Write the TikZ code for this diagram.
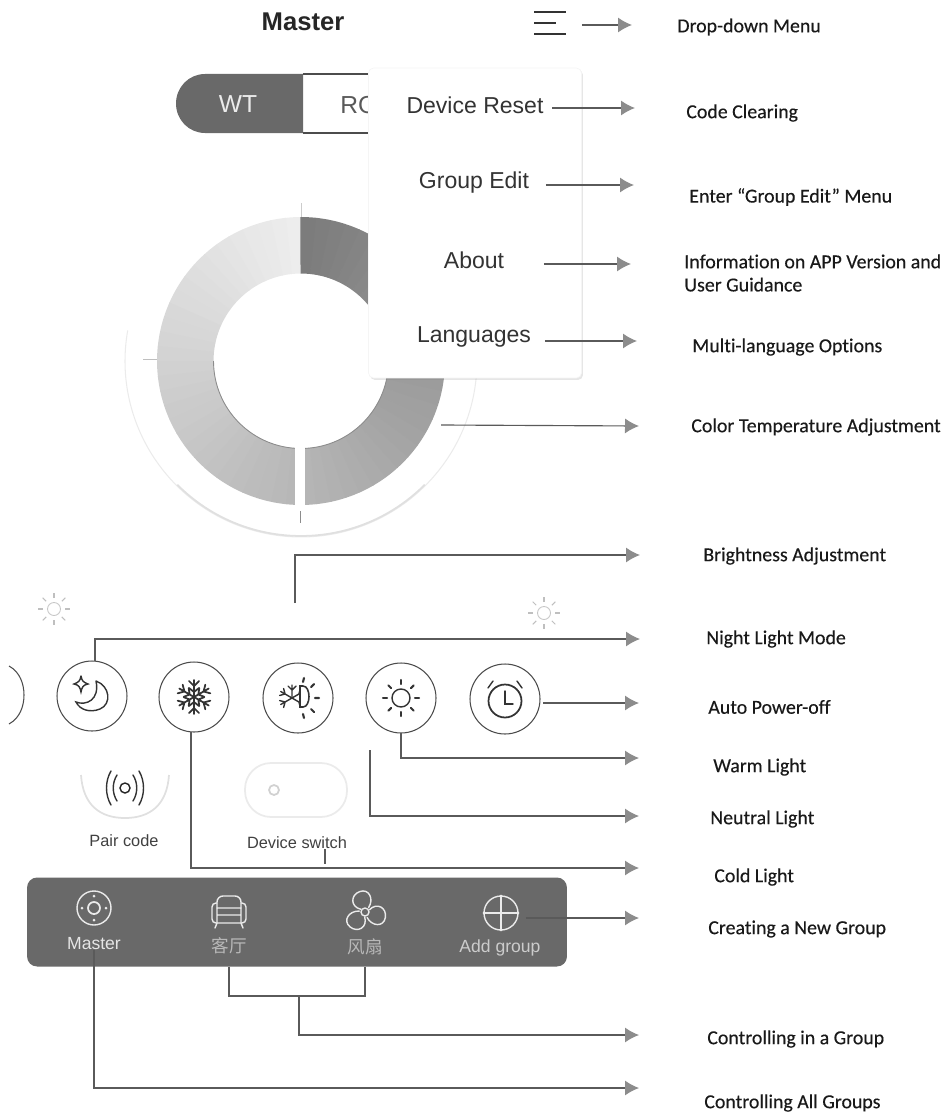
\documentclass[tikz,border=0pt]{standalone}
\usepackage{fontspec}
\setmainfont{Liberation Sans}
\newfontfamily\lblfont[FakeBold=.3,Ligatures=NoCommon]{Carlito}
\newfontfamily\cjk{Noto Sans CJK SC}
\usetikzlibrary{arrows.meta}
\usetikzlibrary{shadows}

\definecolor{bardark}{HTML}{696969}
\definecolor{linedark}{HTML}{5A5A5A}
\definecolor{tipgray}{HTML}{8C8C8C}

\tikzset{
	link/.style={draw=linedark,line width=.65pt,-{Latex[length=.28cm,width=.3cm,color=tipgray]}},
	wire/.style={draw=linedark,line width=.65pt},
	lbl/.style={anchor=west,inner sep=0pt,align=left,font=\lblfont\fontsize{11.3}{13.2}\selectfont,text=black!90},
	menuitem/.style={inner sep=2pt,font=\fontsize{13.1}{15}\selectfont,text=black!80},
	btn/.style={circle,draw=black!70,line width=.6pt,minimum size=1.4cm,inner sep=0pt,outer sep=0pt},
	bartxt/.style={inner sep=0pt,font=\fontsize{10}{12}\selectfont,text=white!90!black},
	icon/.style={draw=black!80,line width=.8pt,line cap=round},
	baricon/.style={draw=white!92!black,line width=.8pt,line cap=round},
	smalltxt/.style={inner sep=0pt,font=\fontsize{9.3}{11}\selectfont,text=black!75}
}

\begin{document}
\begin{tikzpicture}[x=.02cm,y=-.02cm]
	\useasboundingbox (0,0) rectangle (946,1115);

	\begin{scope}[shift={(301,361)},x=.02cm,y=.02cm]
		\draw [black!8,line width=.6pt] (170:3.52cm) arc [start angle=170,end angle=370,radius=3.52cm];
		\draw [black!12,line width=1pt] (225:3.5cm) arc [start angle=225,end angle=315,radius=3.5cm];
		\foreach \a in {90,96,...,264} {
			\pgfmathsetmacro{\sh}{7+(\a-90)/180*22}
			\pgfmathsetmacro{\b}{\a+6.3}
			\fill [black!\sh] (\a:2.88cm) arc [start angle=\a,end angle=\b,radius=2.88cm] -- (\b:1.75cm) arc [start angle=\b,end angle=\a,radius=1.75cm] -- cycle;
		}
		\foreach \a in {-90,-84,...,84} {
			\pgfmathsetmacro{\sh}{29+(\a+90)/180*23}
			\pgfmathsetmacro{\b}{\a+6.3}
			\fill [black!\sh] (\a:2.88cm) arc [start angle=\a,end angle=\b,radius=2.88cm] -- (\b:1.75cm) arc [start angle=\b,end angle=\a,radius=1.75cm] -- cycle;
		}
		\draw [black!45,line width=.5pt] (180:1.75cm) arc [start angle=180,end angle=355,radius=1.75cm];
	\end{scope}
	\fill [white] (295,440) rectangle (305,510);
	\draw [black!20,line width=.4pt] (301,203) -- (301,217);
	\draw [black!25,line width=.4pt] (143,359) -- (157,359);
	\draw [black!45,line width=.4pt] (300,511) -- (300,523);

	\fill [bardark] (303,74) -- (205,74) .. controls (189,74) and (176,87) .. (176,103.5) .. controls (176,120) and (189,133) .. (205,133) -- (303,133) -- cycle;
	\draw [black!70,line width=.6pt] (303,74) -- (372,74) (372,133) -- (303,133);
	\node [inner sep=0pt,font=\fontsize{14}{16}\selectfont,text=white!92!black] at (238,104) (txt_wt) {WT};
	\node [inner sep=0pt,anchor=west,font=\fontsize{14}{16}\selectfont,text=black!65] at (340,105) (txt_rgb) {RG};

	\node [draw=black!4,fill=white,rounded corners=.1cm,minimum width=4.26cm,minimum height=6.2cm,drop shadow={opacity=.2,shadow xshift=.03cm,shadow yshift=-.04cm}] at (475,223) (panel) {};

	\node [inner sep=0pt,font=\bfseries\fontsize{14.6}{16}\selectfont,text=black!85] at (303,22) (txt_master) {Master};
	\node [minimum width=.62cm,minimum height=.44cm,inner sep=0pt] at (550,23) (ico_menu) {};
	\draw [icon,line width=1.1pt,line cap=butt] (ico_menu.north west) -- (ico_menu.north east) (ico_menu.west) -- ++(22,0) (ico_menu.south west) -- (ico_menu.south east);

	\node [menuitem] at (475,105) (txt_reset) {Device Reset};
	\node [menuitem] at (474,183) (txt_edit) {Group Edit};
	\node [menuitem] at (474,260) (txt_about) {About};
	\node [menuitem] at (474,337) (txt_lang) {Languages};

	\foreach \x/\y/\n in {54/609/suna,544/613/sunb} {
		\begin{scope}[shift={(\x,\y)}]
			\node [circle,draw=black!22,line width=.5pt,minimum size=.26cm,inner sep=0pt] at (0,0) (\n) {};
			\foreach \a in {0,45,...,315} {
				\draw [black!25,line width=.6pt] (\a:11) -- (\a:16);
			}
		\end{scope}
	}

	\draw [black!70,line width=.6pt] (9,666) .. controls (20,672) and (24,684) .. (24,695) .. controls (24,706) and (20,718) .. (9,724);
	\node [btn] at (92,696) (btn_night) {};
	\node [btn] at (194,697) (btn_cold) {};
	\node [btn] at (298,698) (btn_mix) {};
	\node [btn] at (401,698) (btn_warm) {};
	\node [btn] at (505,699) (btn_clock) {};

	\begin{scope}[shift={(btn_night)}]
		\draw [icon] (4,-15) .. controls (18,-10) and (20,8) .. (8,13) .. controls (-2,17) and (-12,14) .. (-16,6) .. controls (-6,10) and (8,4) .. (4,-15);
		\draw [icon] (-11,-20) .. controls (-10,-15) and (-9,-14) .. (-4,-12) .. controls (-9,-11) and (-10,-9) .. (-11,-4) .. controls (-12,-9) and (-13,-11) .. (-18,-12) .. controls (-13,-14) and (-12,-15) .. (-11,-20);
	\end{scope}
	\begin{scope}[shift={(btn_cold)}]
		\foreach \a in {0,60,...,300} {
			\draw [icon,line width=1pt,rotate=\a] (0,0) -- (0,-17) (0,-11) -- (-5,-16) (0,-11) -- (5,-16) (0,-5) -- (-5,-9) (0,-5) -- (5,-9);
		}
	\end{scope}
	\begin{scope}[shift={(btn_mix)}]
		\foreach \a in {-120,-60,0,60,120} {
			\draw [icon,shift={(-6,0)},rotate=\a,line width=.8pt] (0,0) -- (0,-13) (0,-8) -- (-4,-12) (0,-8) -- (4,-12);
		}
		\draw [icon,fill=white,line width=.9pt] (2,-12) -- (5,-12) .. controls (13,-12) and (13,9) .. (5,9) -- (2,9) -- cycle;
		\draw [icon,line width=1.2pt] (17,0) -- (21,0) (13,-11) -- (16,-14) (13,11) -- (16,14) (5,-16) -- (6,-20) (5,16) -- (6,20);
	\end{scope}
	\begin{scope}[shift={(btn_warm)}]
		\node [icon,circle,minimum size=.36cm,inner sep=0pt] at (0,0) (ico_sun) {};
		\foreach \a in {0,45,...,315} {
			\draw [icon,line width=1.2pt] (\a:14) -- (\a:18);
		}
	\end{scope}
	\begin{scope}[shift={(btn_clock)}]
		\node [icon,circle,line width=1pt,minimum size=.66cm,inner sep=0pt] at (0,2) (ico_clock) {};
		\draw [icon] (0,-8) -- (0,5) -- (8,5);
		\draw [icon] (-17,-11) -- (-12,-18) (17,-11) -- (12,-18);
	\end{scope}

	\draw [black!12,line width=1pt] (81,775) .. controls (83,805) and (100,818) .. (125,818) .. controls (150,818) and (167,805) .. (169,775);
	\node [circle,draw=black!85,line width=.8pt,minimum size=.2cm,inner sep=0pt] at (125,788) (ico_pair) {};
	\draw [icon] (117,775) .. controls (112,783) and (112,793) .. (117,801);
	\draw [icon] (111,771) .. controls (105,781) and (105,795) .. (111,805);
	\draw [icon] (133,775) .. controls (138,783) and (138,793) .. (133,801);
	\draw [icon] (139,771) .. controls (145,781) and (145,795) .. (139,805);
	\node [smalltxt] at (124,841) (txt_pair) {Pair code};

	\node [draw=black!8,line width=1pt,rounded corners=.52cm,minimum width=2.04cm,minimum height=1.08cm] at (296,790) (ico_toggle) {};
	\node [circle,draw=black!18,line width=1pt,minimum size=.2cm,inner sep=0pt] at (274,790) (ico_switch) {};
	\node [smalltxt] at (297,843) (txt_switch) {Device switch};

	\node [fill=bardark,rounded corners=.2cm,minimum width=10.8cm,minimum height=1.78cm,inner sep=0pt] at (297,922) (bar) {};

	\begin{scope}[shift={(94,908)}]
		\node [baricon,circle,minimum size=.68cm,inner sep=0pt] at (0,0) (ico_target) {};
		\node [baricon,circle,line width=1pt,minimum size=.24cm,inner sep=0pt] at (0,0) (ico_targetc) {};
		\fill [white!92!black] (0,-12) circle (1.5) (0,12) circle (1.5) (-12,0) circle (1.5) (12,0) circle (1.5);
	\end{scope}
	\begin{scope}[shift={(229,910)}]
		\draw [baricon,rounded corners=.12cm] (-12,-2) -- (-12,-14) -- (12,-14) -- (12,-2);
		\draw [baricon,rounded corners=.08cm] (-12,-7) -- (-17,-7) -- (-17,13) -- (17,13) -- (17,-7) -- (12,-7);
		\draw [baricon] (-12,-2) -- (12,-2) (-12,5) -- (12,5) (-12,-2) -- (-12,13) (12,-2) -- (12,13) (-12,13) -- (-14,18) (12,13) -- (14,18);
	\end{scope}
	\begin{scope}[shift={(365,912)}]
		\node [baricon,circle,minimum size=.16cm,inner sep=0pt] at (0,0) (ico_fan) {};
		\foreach \a in {20,140,260} {
			\draw [baricon,rotate=\a] (-3,-4) .. controls (-12,-10) and (-8,-21) .. (2,-21) .. controls (12,-21) and (13,-9) .. (5,-3);
		}
	\end{scope}
	\node [baricon,circle,minimum size=.68cm,inner sep=0pt] at (501,913) (ico_add) {};
	\draw [baricon] (ico_add.west) -- (ico_add.east) (ico_add.north) -- (ico_add.south);

	\node [bartxt] at (94,944) (bar_master) {Master};
	\node [bartxt,text=white!72!black,font=\cjk\fontsize{10}{12}\selectfont] at (229,946) (bar_living) {客厅};
	\node [bartxt,text=white!72!black,font=\cjk\fontsize{10}{12}\selectfont] at (365,947) (bar_fan) {风扇};
	\node [bartxt,text=white!80!black] at (500,948) (bar_add) {Add group};

	\node [lbl] at (677,27) (lbl_menu) {Drop-down Menu};
	\node [lbl] at (686,113) (lbl_reset) {Code Clearing};
	\node [lbl] at (689,197) (lbl_edit) {Enter “Group Edit” Menu};
	\node [lbl] at (684,273) (lbl_about) {Information on APP Version and\\User Guidance};
	\node [lbl] at (692,347) (lbl_lang) {Multi-language Options};
	\node [lbl] at (691,427) (lbl_temp) {Color Temperature Adjustment};
	\node [lbl] at (703,556) (lbl_bright) {Brightness Adjustment};
	\node [lbl] at (706,639) (lbl_night) {Night Light Mode};
	\node [lbl] at (708,707) (lbl_off) {Auto Power-off};
	\node [lbl] at (713,767) (lbl_warm) {Warm Light};
	\node [lbl] at (710,819) (lbl_neutral) {Neutral Light};
	\node [lbl] at (714,877) (lbl_cold) {Cold Light};
	\node [lbl] at (708,929) (lbl_new) {Creating a New Group};
	\node [lbl] at (707,1039) (lbl_group) {Controlling in a Group};
	\node [lbl] at (704,1103) (lbl_all) {Controlling All Groups};

	\coordinate (tip_menu) at (632,25);
	\coordinate (tip_reset) at (635,108);
	\coordinate (tip_edit) at (634,185);
	\coordinate (tip_about) at (631,264);
	\coordinate (tip_lang) at (637,341);
	\coordinate (tip_temp) at (639,426);
	\coordinate (tip_bright) at (640,555);
	\coordinate (tip_night) at (640,639);
	\coordinate (tip_off) at (639,703);
	\coordinate (tip_warm) at (639,758);
	\coordinate (tip_neutral) at (639,816);
	\coordinate (tip_cold) at (639,868);
	\coordinate (tip_new) at (639,918);
	\coordinate (tip_group) at (639,1035);
	\coordinate (tip_all) at (639,1088);

	\coordinate (ring_pt) at (441,425);
	\coordinate (slider_pt) at (295,603);
	\coordinate (neutral_pt) at (370,750);
	\coordinate (switch_pt) at (325,864);
	\coordinate (group_pt) at (299,996);

	\draw [link,shorten <=.32cm] (ico_menu.east |- tip_menu) -- (tip_menu);
	\draw [link,shorten <=.1cm] (txt_reset.east |- tip_reset) -- (tip_reset);
	\draw [link,shorten <=.26cm] (txt_edit.east |- tip_edit) -- (tip_edit);
	\draw [link,shorten <=.72cm] (txt_about.east |- tip_about) -- (tip_about);
	\draw [link,shorten <=.2cm] (txt_lang.east |- tip_lang) -- (tip_lang);
	\draw [link] (ring_pt) -- (tip_temp);
	\draw [link] (slider_pt) |- (tip_bright);
	\draw [link] (btn_night.85) |- (tip_night);
	\draw [link,shorten <=.06cm] (btn_clock.east |- tip_off) -- (tip_off);
	\draw [link] (btn_warm.south) |- (tip_warm);
	\draw [link] (neutral_pt) |- (tip_neutral);
	\draw [link] (btn_cold.265) |- (tip_cold);
	\draw [wire] (txt_switch.south -| switch_pt) -- (switch_pt);
	\draw [link,shorten <=.1cm] (bar_add.east |- tip_new) ++(-20,0) -- (tip_new);
	\draw [wire] (bar_living.south |- bar.south) |- (group_pt) -| (bar_fan.south |- bar.south);
	\draw [link] (group_pt) |- (tip_group);
	\draw [link] (bar_master.south) |- (tip_all);
\end{tikzpicture}
\end{document}
